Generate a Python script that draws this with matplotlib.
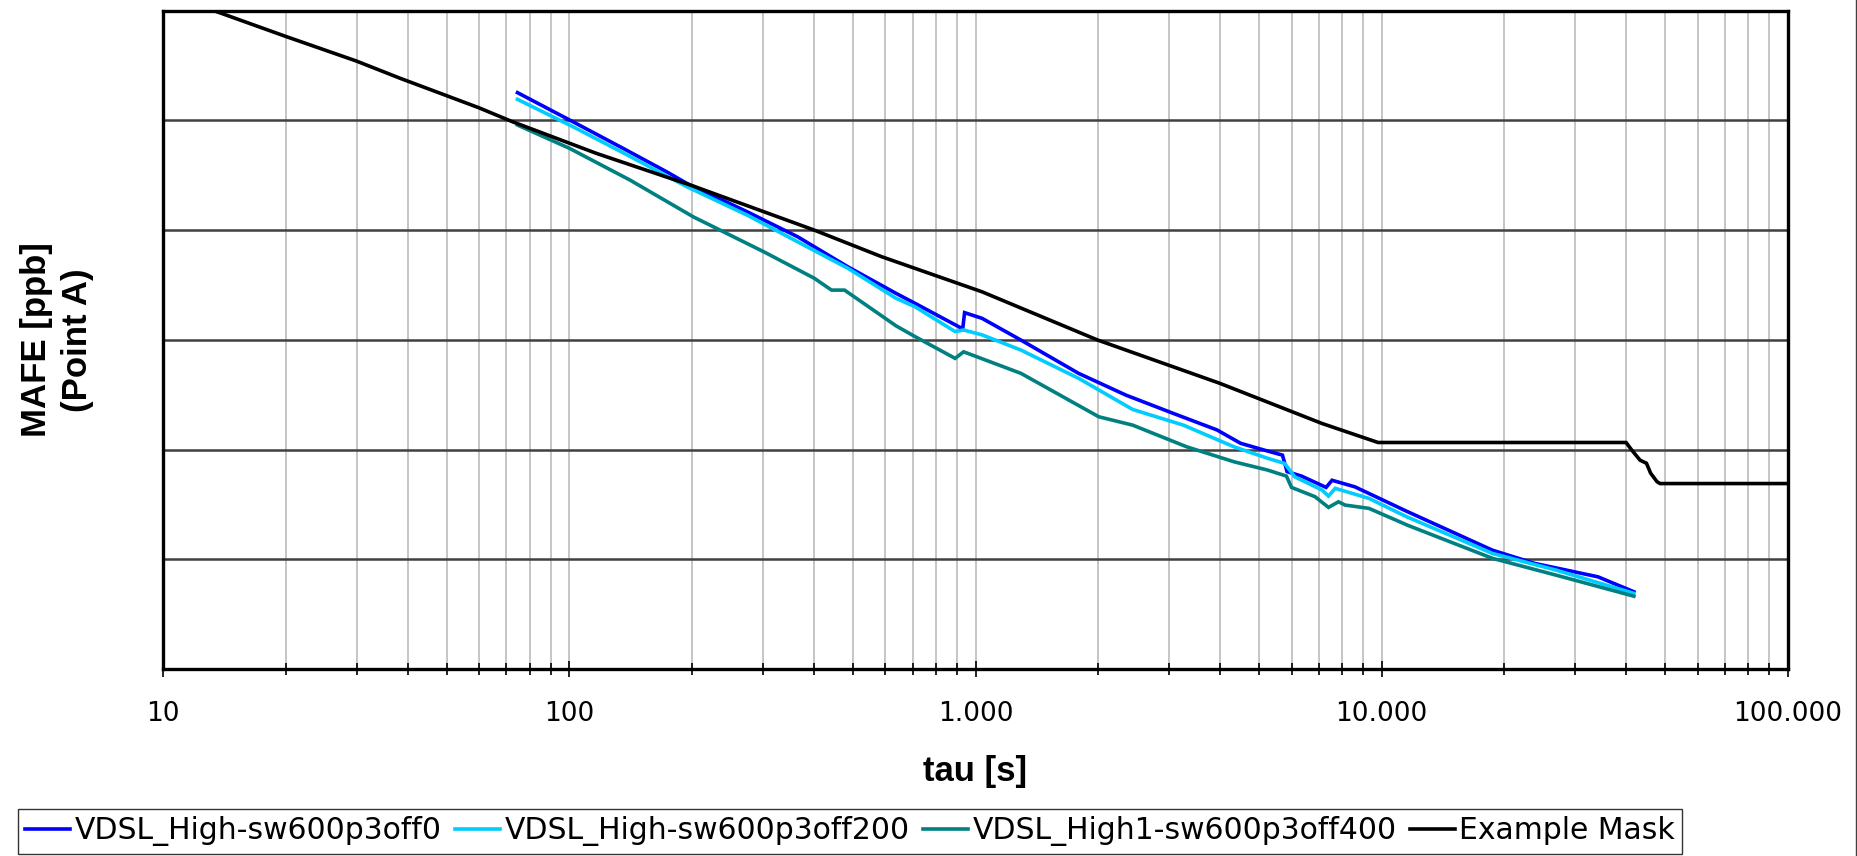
import matplotlib.pyplot as plt
from matplotlib.ticker import FixedLocator, LogLocator, NullFormatter, NullLocator
from matplotlib.lines import Line2D

# values (tau in s, MAFE in ppb)
tau_off0 = [74.5, 102, 135.5, 173.6, 194.5, 274, 364.6, 485, 637.6, 710, 930, 940,
            1038, 1294, 1794, 2344, 3066, 3932, 4497, 5140, 5700, 5850, 6350,
            7300, 7550, 8600, 11500, 18750, 23800, 34100, 41800]
mafe_off0 = [1791, 973, 557, 340, 267, 147, 87.1, 46.3, 26.5, 21.5, 12.6, 17.7,
             15.7, 9.95, 4.95, 3.14, 2.14, 1.51, 1.14, 0.989, 0.89, 0.63, 0.573,
             0.452, 0.525, 0.457, 0.275, 0.121, 0.0918, 0.0692, 0.0506]

tau_off200 = [74.5, 102, 135.5, 194.5, 274, 364.6, 485, 637.6, 710, 891, 935,
              1038, 1294, 1794, 2438, 3250, 4330, 5243, 5770, 6110, 7130, 7400,
              7690, 9310, 11500, 18750, 26850, 41800]
mafe_off200 = [1556, 877, 508, 249, 137, 78.3, 44.9, 23.9, 20.0, 11.9, 12.3,
               11.1, 8.07, 4.46, 2.32, 1.67, 1.06, 0.832, 0.748, 0.565, 0.428, 0.377,
               0.443, 0.359, 0.245, 0.113, 0.0798, 0.0489]

tau_off400 = [74.5, 100, 141, 202, 301, 401, 442, 476, 637.6, 710, 891, 935,
              1294, 2012, 2438, 3311, 4330, 5243, 5830, 6000, 6855, 7400, 7830,
              8130, 9310, 11600, 18750, 26850, 41800]
mafe_off400 = [908, 557, 286, 132, 63.5, 36.4, 28.4, 28.4, 13.4, 10.7, 6.78, 7.78,
               4.95, 1.99, 1.67, 1.06, 0.774, 0.650, 0.573, 0.452, 0.372, 0.297, 0.334,
               0.312, 0.291, 0.204, 0.102, 0.0718, 0.0461]

tau_mask = [12, 19.9, 29.9, 38.3, 59.8, 72.4, 116.5, 202, 401, 587, 1038, 2000,
            4000, 7130, 9800, 40000, 41300, 43300, 44900, 45960, 47650, 48500, 100000]
mafe_mask = [11500, 5875, 3475, 2421, 1306, 973, 501, 252, 100, 57.3, 27.4, 9.95,
             4.01, 1.73, 1.16, 1.16, 0.99, 0.80, 0.75, 0.61, 0.51, 0.49, 0.49]

series_names = ['VDSL_High-sw600p3off0', 'VDSL_High-sw600p3off200',
                'VDSL_High1-sw600p3off400', 'Example Mask']
series_colors = ['#0000ff', '#00ccff', '#008080', '#000000']

x_ticks = [10, 100, 1000, 10000, 100000]
x_tick_labels = ['10', '100', '1.000', '10.000', '100.000']

W, H = 1858, 856
fig = plt.figure(figsize=(W / 100, H / 100), dpi=100)
ax = fig.add_axes([163.3 / W, 1 - 669 / H, (1787.7 - 163.3) / W, (669 - 10.7) / H])

for tx, my, name, col in zip([tau_off0, tau_off200, tau_off400, tau_mask],
                             [mafe_off0, mafe_off200, mafe_off400, mafe_mask],
                             series_names, series_colors):
    ax.plot(tx, my, color=col, lw=2.6, label=name, solid_joinstyle='miter')

ax.set_xscale('log')
ax.set_yscale('log')
ax.set_xlim(10, 100000)
ax.set_ylim(1e-2, 1e4)

# x axis: decades labelled, minor ticks at 2..9
ax.xaxis.set_major_locator(FixedLocator(x_ticks))
ax.set_xticklabels(x_tick_labels)
ax.xaxis.set_minor_locator(LogLocator(base=10, subs=range(2, 10)))
ax.xaxis.set_minor_formatter(NullFormatter())
ax.tick_params(axis='x', which='major', direction='inout', length=12, width=1.2,
               labelsize=19, pad=17)
ax.tick_params(axis='x', which='minor', direction='inout', length=9, width=1.2)

# y axis: gridlines at each decade, no ticks or labels
ax.yaxis.set_major_locator(LogLocator(base=10, numticks=20))
ax.yaxis.set_minor_locator(NullLocator())
ax.tick_params(axis='y', which='both', length=0, labelleft=False)

ax.grid(True, axis='x', which='both', color='#c0c0c0', lw=1.3)
ax.grid(True, axis='y', which='major', color='#404040', lw=1.8)
ax.set_axisbelow(True)

for sp in ax.spines.values():
    sp.set_linewidth(2.4)
    sp.set_color('black')

ax.set_xlabel('tau [s]', fontsize=25, fontweight='bold', family='Liberation Sans')
ax.xaxis.set_label_coords(0.5, (669 - 771) / (669 - 10.7))
ax.xaxis.label.set_va('center')

ax.set_ylabel('MAFE [ppb]\n(Point A)', fontsize=25, fontweight='bold',
              family='Liberation Sans', linespacing=1.3)
ax.yaxis.set_label_coords((57 - 163.3) / (1787.7 - 163.3), 0.5)
ax.yaxis.label.set_va('center')

leg = fig.legend(loc='upper left', bbox_to_anchor=(18 / W, 1 - 809 / H), ncol=4,
                 fontsize=21.5, frameon=True, fancybox=False, handlelength=1.5,
                 handletextpad=0.15, columnspacing=0.45, borderpad=0.25,
                 borderaxespad=0)
leg.get_frame().set_edgecolor('black')
leg.get_frame().set_linewidth(1.0)
for ln in leg.get_lines():
    ln.set_linewidth(2.6)

# chart area border on the right edge
fig.add_artist(Line2D([1856.5 / W, 1856.5 / W], [0, 1], color='#404040', lw=1.0))

fig.savefig('out.png', dpi=100)
